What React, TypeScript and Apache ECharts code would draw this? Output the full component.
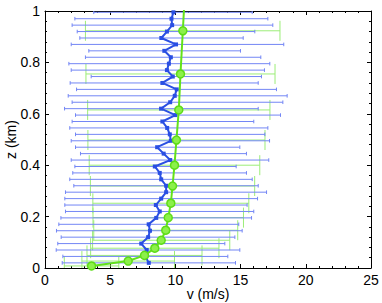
import React, { useEffect, useRef } from "react";
import * as echarts from "echarts";

// Blue profile (height in km, speed in m/s)
const zBlue = [0.02, 0.045, 0.07, 0.095, 0.12, 0.145, 0.17, 0.195, 0.22, 0.245, 0.27, 0.295, 0.32, 0.345, 0.37, 0.395, 0.42, 0.445, 0.47, 0.495, 0.52, 0.545, 0.57, 0.595, 0.62, 0.645, 0.67, 0.695, 0.72, 0.745, 0.77, 0.795, 0.82, 0.845, 0.87, 0.895, 0.92, 0.945, 0.97, 0.995];
const vBlue = [7.96, 7.7, 7.8, 7.38, 7.91, 8.05, 7.95, 8.53, 8.8, 8.5, 8.91, 9.29, 9.29, 8.91, 8.8, 8.42, 9.6, 9.1, 8.6, 9.65, 9.57, 9.37, 9.0, 10.0, 8.9, 9.6, 9.95, 10.1, 9.0, 9.8, 9.35, 9.5, 9.65, 9.15, 10.05, 8.92, 9.35, 9.75, 9.7, 9.85];
const vBlueLo = [1.32, 1.37, 0.86, 0.98, 1.24, 0.88, 1.06, 1.22, 1.57, 1.52, 1.52, 1.57, 2.21, 1.9, 2.13, 2.29, 2.01, 2.72, 2.34, 2.01, 2.34, 1.9, 2.08, 2.34, 1.5, 2.08, 1.78, 2.42, 1.93, 3.54, 2.01, 1.83, 3.1, 3.36, 2.01, 2.67, 2.47, 2.08, 2.29, 3.74];
const vBlueHi = [14.61, 14.02, 14.94, 13.79, 14.56, 15.12, 14.86, 15.84, 16.01, 15.5, 16.3, 16.99, 16.35, 15.89, 15.45, 14.66, 17.16, 15.45, 14.94, 17.22, 16.86, 17.09, 16.01, 18.06, 16.35, 18.24, 18.57, 17.75, 16.35, 16.6, 16.83, 17.24, 16.55, 14.99, 18.31, 15.2, 16.09, 17.47, 17.09, 15.89];

// Green profile
const zGreen = [0.008, 0.027, 0.049, 0.077, 0.108, 0.147, 0.196, 0.252, 0.319, 0.4, 0.498, 0.615, 0.755, 0.923, 1.12];
const vGreen = [3.57, 6.38, 7.63, 8.42, 8.91, 9.26, 9.45, 9.65, 9.78, 9.93, 10.08, 10.26, 10.39, 10.57, 10.78];
const vGreenLo = [1.48, 2.83, 3.22, 3.5, 3.65, 3.74, 3.68, 3.67, 3.48, 3.39, 3.29, 3.27, 3.14, 3.1, 2.9];
const vGreenHi = [5.66, 9.93, 12.04, 13.34, 14.17, 14.78, 15.22, 15.63, 16.08, 16.47, 16.87, 17.25, 17.64, 18.02, 18.6];

const xTicks = { min: 0, max: 25, interval: 5 };
const yTicks = { min: 0, max: 1, interval: 0.2 };

const FONT = "Liberation Sans, Arial, Helvetica, sans-serif";

function errorBarSeries(z: number[], lo: number[], hi: number[], color: string, capHalf: number, z2: number) {
  const data = z.map((zz, i) => [zz, lo[i], hi[i]]);
  return {
    type: "custom",
    clip: true,
    z: z2,
    encode: { x: [1, 2], y: 0 },
    data,
    renderItem: (params: any, api: any) => {
      const zz = api.value(0);
      const a = api.coord([api.value(1), zz]);
      const b = api.coord([api.value(2), zz]);
      const style = { stroke: color, lineWidth: 1, fill: "none" };
      return {
        type: "group",
        children: [
          { type: "line", shape: { x1: a[0], y1: a[1], x2: b[0], y2: b[1] }, style },
          { type: "line", shape: { x1: a[0], y1: a[1] - capHalf, x2: a[0], y2: a[1] + capHalf }, style },
          { type: "line", shape: { x1: b[0], y1: b[1] - capHalf, x2: b[0], y2: b[1] + capHalf }, style },
        ],
      };
    },
  };
}

function axisCommon(show: boolean) {
  return {
    nameMoveOverlap: false,
    axisLine: { show: true, onZero: false, lineStyle: { color: "#000", width: 1 } },
    axisTick: { show: true, inside: true, length: 4, lineStyle: { color: "#000" } },
    minorTick: { show: true, splitNumber: 5, length: 2, lineStyle: { color: "#000" } },
    splitLine: { show: false },
    axisLabel: { show, color: "#000", fontSize: 14, fontFamily: FONT, margin: 5, hideOverlap: false },
  };
}

export default function App() {
  const ref = useRef<HTMLDivElement>(null);
  useEffect(() => {
    document.body.style.margin = "0";
    const chart = echarts.init(ref.current!, null, { renderer: "svg" });
    chart.setOption({
      animation: false,
      backgroundColor: "#fff",
      grid: { left: 45, right: 11, top: 11, bottom: 35, containLabel: false, outerBoundsMode: "none" },
      xAxis: [
        {
          type: "value", position: "bottom", ...xTicks, ...axisCommon(true),
          name: "v (m/s)", nameLocation: "middle", nameGap: 19,
          nameTextStyle: { color: "#000", fontSize: 14, fontFamily: FONT },
        },
        { type: "value", position: "top", ...xTicks, ...axisCommon(false) },
      ],
      yAxis: [
        {
          type: "value", position: "left", ...yTicks, ...axisCommon(true),
          name: "z (km)", nameLocation: "middle", nameGap: 27,
          nameTextStyle: { color: "#000", fontSize: 14, fontFamily: FONT },
        },
        { type: "value", position: "right", ...yTicks, ...axisCommon(false) },
      ],
      series: [
        errorBarSeries(zGreen, vGreenLo, vGreenHi, "#9ced78", 10, 1),
        errorBarSeries(zBlue, vBlueLo, vBlueHi, "#7386f5", 1.8, 2),
        {
          type: "line", z: 3, clip: true,
          data: zBlue.map((z, i) => [vBlue[i], z]),
          lineStyle: { color: "#2a4fe3", width: 2 },
          itemStyle: { color: "#2a4fe3" },
          symbol: "rect", symbolSize: 4, showSymbol: true,
        },
        {
          type: "line", z: 4, clip: true,
          data: zGreen.map((z, i) => [vGreen[i], z]),
          lineStyle: { color: "#62e21a", width: 2 },
          itemStyle: { color: "#8cf04a", borderColor: "#5ddc18", borderWidth: 1.5 },
          symbol: "circle", symbolSize: 8, showSymbol: true,
        },
      ],
    });
    return () => chart.dispose();
  }, []);
  return <div ref={ref} style={{ width: 382, height: 303, position: "fixed", left: 0, top: 0 }} />;
}
